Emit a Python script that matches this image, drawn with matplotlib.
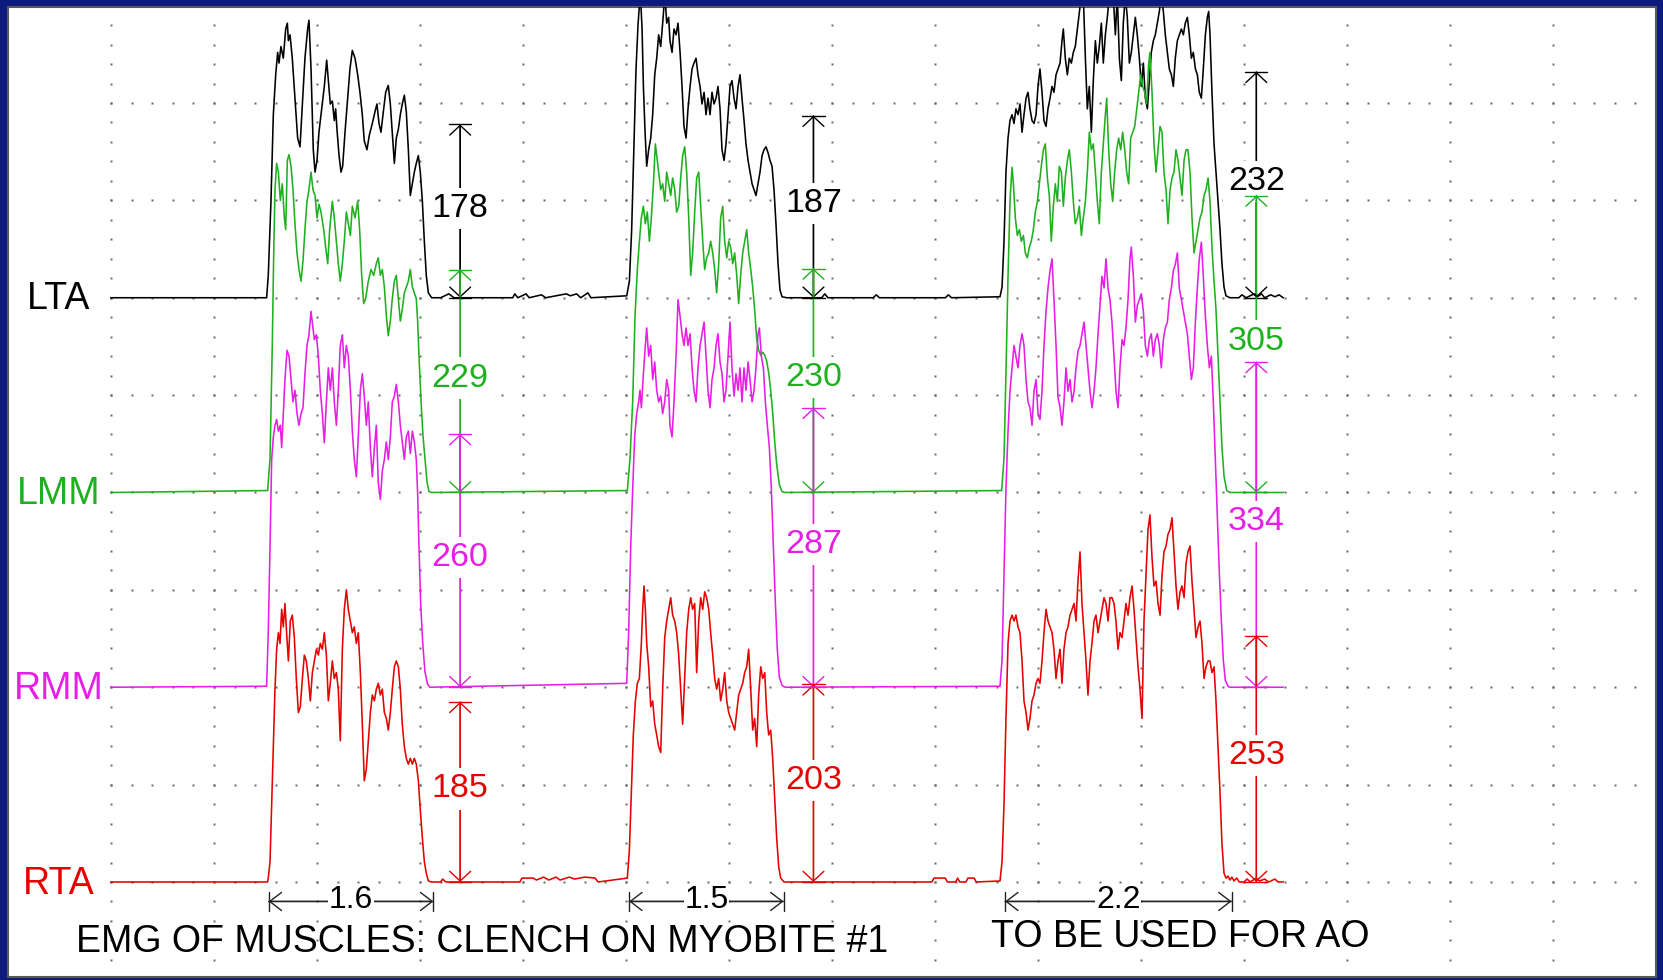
import numpy as np
import matplotlib.pyplot as plt

plt.rcParams['font.family'] = ['Liberation Sans', 'DejaVu Sans']

# channels, top to bottom; baseline offset in uV (100 uV per grid division)
channels = ['LTA', 'LMM', 'RMM', 'RTA']
colors = ['#000000', '#1fb01f', '#e61ee6', '#e60000']
baselines = [700, 500, 300, 100]
trace_end = 11.38

# bursts: (time s, amplitude uV above baseline)
lta_b1 = [(1.511,0),(1.527,23),(1.553,99),(1.576,188),(1.599,229),(1.618,252),(1.631,241),(1.650,258),(1.673,246),(1.696,276),(1.712,282),(1.722,264),(1.738,270),(1.760,246),(1.786,205),(1.812,164),(1.835,155),(1.858,199),(1.883,246),(1.909,276),(1.922,285),(1.942,235),(1.964,152),(1.981,129),(2.000,141),(2.019,170),(2.045,194),(2.071,217),(2.094,244),(2.110,223),(2.129,199),(2.149,202),(2.168,182),(2.181,194),(2.194,173),(2.214,146),(2.233,129),(2.249,135),(2.272,170),(2.298,205),(2.320,235),(2.343,254),(2.369,246),(2.395,229),(2.417,211),(2.440,188),(2.459,161),(2.485,152),(2.508,167),(2.537,179),(2.563,191),(2.582,199),(2.602,179),(2.621,170),(2.644,191),(2.667,211),(2.692,218),(2.712,199),(2.731,170),(2.751,138),(2.770,164),(2.790,173),(2.809,188),(2.828,199),(2.848,208),(2.867,191),(2.887,152),(2.906,105),(2.926,117),(2.945,129),(2.964,138),(2.984,146),(3.003,129),(3.023,99),(3.042,58),(3.061,23),(3.081,5),(3.113,0)]
lta_b2 = [(5.007,2),(5.033,17),(5.055,70),(5.078,158),(5.097,234),(5.117,281),(5.130,300),(5.143,305),(5.156,276),(5.169,217),(5.185,170),(5.201,135),(5.220,152),(5.240,164),(5.259,188),(5.279,229),(5.298,246),(5.317,270),(5.337,258),(5.356,282),(5.369,300),(5.382,305),(5.395,282),(5.414,288),(5.427,264),(5.447,252),(5.466,276),(5.486,270),(5.505,282),(5.525,252),(5.544,217),(5.563,176),(5.583,164),(5.602,194),(5.622,217),(5.641,235),(5.660,241),(5.680,246),(5.699,229),(5.719,217),(5.738,199),(5.758,211),(5.777,188),(5.796,205),(5.816,188),(5.835,211),(5.855,199),(5.874,205),(5.893,217),(5.913,194),(5.932,152),(5.952,141),(5.971,158),(5.991,188),(6.010,217),(6.029,223),(6.049,205),(6.068,194),(6.088,217),(6.107,229),(6.126,205),(6.146,182),(6.165,158),(6.185,141),(6.204,129),(6.224,117),(6.243,111),(6.262,105),(6.282,117),(6.301,129),(6.321,146),(6.340,152),(6.359,155),(6.379,149),(6.398,141),(6.418,135),(6.437,111),(6.456,76),(6.476,35),(6.495,8),(6.515,1),(6.560,0)]
lta_b3 = [(8.631,1),(8.651,11),(8.670,58),(8.689,129),(8.709,164),(8.728,182),(8.748,188),(8.767,179),(8.786,194),(8.806,188),(8.825,199),(8.845,170),(8.864,188),(8.884,205),(8.903,211),(8.922,194),(8.942,182),(8.961,179),(8.981,188),(9.000,217),(9.019,235),(9.039,211),(9.058,182),(9.078,176),(9.097,194),(9.117,205),(9.136,217),(9.155,211),(9.175,229),(9.194,235),(9.214,241),(9.233,264),(9.246,276),(9.265,246),(9.285,229),(9.304,246),(9.324,241),(9.343,252),(9.362,258),(9.382,276),(9.401,294),(9.421,310),(9.440,310),(9.460,246),(9.479,194),(9.498,217),(9.518,170),(9.537,223),(9.557,264),(9.576,241),(9.595,258),(9.615,282),(9.634,241),(9.654,270),(9.673,288),(9.693,310),(9.712,310),(9.731,310),(9.751,270),(9.770,310),(9.790,246),(9.809,223),(9.828,282),(9.848,310),(9.867,288),(9.887,241),(9.906,252),(9.926,270),(9.945,288),(9.964,270),(9.984,246),(10.003,217),(10.023,241),(10.042,205),(10.062,194),(10.081,223),(10.100,252),(10.120,264),(10.139,270),(10.159,282),(10.178,294),(10.197,310),(10.217,294),(10.236,270),(10.256,252),(10.275,235),(10.295,229),(10.314,217),(10.333,246),(10.353,264),(10.372,270),(10.392,276),(10.411,270),(10.430,282),(10.450,288),(10.469,270),(10.489,246),(10.508,252),(10.528,235),(10.547,229),(10.566,211),(10.586,205),(10.605,235),(10.625,270),(10.644,288),(10.657,294),(10.670,270),(10.689,211),(10.709,158),(10.728,129),(10.748,99),(10.767,70),(10.786,35),(10.806,11),(10.825,2),(10.864,0)]
lta_flat = [(3.20,0),(3.28,4),(3.33,0),(3.90,0),(3.92,4),(3.95,0),(4.03,4),(4.06,0),(4.18,3),(4.22,0),(4.42,4),(4.46,2),(4.52,4),(4.56,0),(4.63,5),(4.66,0),(6.90,0),(6.93,4),(6.96,0),(7.40,0),(7.43,3),(7.46,0),(8.10,0),(8.13,3),(8.16,0),(10.95,0),(10.98,3),(11.02,0),(11.10,4),(11.13,1),(11.17,4),(11.20,0),(11.26,3),(11.30,1),(11.34,3)]

lmm_b1 = [(1.521,2),(1.544,35),(1.566,152),(1.579,241),(1.592,311),(1.608,338),(1.625,329),(1.644,300),(1.663,317),(1.683,282),(1.696,270),(1.712,341),(1.728,347),(1.748,335),(1.767,311),(1.786,276),(1.806,246),(1.825,229),(1.845,217),(1.864,238),(1.883,270),(1.903,299),(1.922,311),(1.942,329),(1.961,311),(1.981,305),(2.000,282),(2.019,296),(2.039,288),(2.065,270),(2.084,252),(2.104,235),(2.123,270),(2.149,299),(2.168,282),(2.188,258),(2.207,235),(2.226,217),(2.246,235),(2.265,258),(2.285,288),(2.304,276),(2.324,264),(2.343,294),(2.369,282),(2.395,299),(2.414,270),(2.434,223),(2.453,194),(2.472,199),(2.498,217),(2.524,229),(2.550,223),(2.576,235),(2.595,241),(2.615,223),(2.634,229),(2.654,211),(2.673,182),(2.692,161),(2.712,176),(2.731,199),(2.751,217),(2.770,223),(2.790,199),(2.809,176),(2.828,188),(2.848,205),(2.867,211),(2.887,217),(2.906,229),(2.926,211),(2.945,205),(2.964,199),(2.977,176),(2.990,141),(3.010,94),(3.029,58),(3.048,35),(3.068,11),(3.087,1),(3.110,0)]
lmm_b2 = [(5.013,2),(5.039,35),(5.065,94),(5.088,182),(5.110,229),(5.130,258),(5.149,282),(5.169,294),(5.188,276),(5.207,288),(5.227,258),(5.246,282),(5.266,317),(5.285,358),(5.298,346),(5.317,329),(5.337,311),(5.356,317),(5.376,299),(5.395,329),(5.414,317),(5.434,305),(5.453,323),(5.473,311),(5.492,288),(5.512,294),(5.531,323),(5.550,346),(5.570,355),(5.589,329),(5.609,282),(5.628,223),(5.647,246),(5.667,288),(5.686,323),(5.706,329),(5.725,294),(5.745,258),(5.764,229),(5.783,241),(5.803,246),(5.822,258),(5.842,246),(5.861,229),(5.880,205),(5.900,235),(5.919,282),(5.939,294),(5.958,258),(5.978,241),(5.997,258),(6.016,252),(6.036,235),(6.055,246),(6.075,223),(6.094,194),(6.113,223),(6.133,246),(6.152,258),(6.172,270),(6.191,246),(6.211,229),(6.230,211),(6.249,188),(6.269,158),(6.288,146),(6.308,141),(6.327,144),(6.347,141),(6.366,135),(6.385,123),(6.405,105),(6.424,82),(6.444,52),(6.463,29),(6.489,8),(6.515,1),(6.540,0)]
lmm_b3 = [(8.647,2),(8.670,35),(8.689,123),(8.709,222),(8.728,299),(8.748,334),(8.761,317),(8.780,282),(8.799,264),(8.819,270),(8.838,258),(8.858,264),(8.877,246),(8.896,241),(8.916,252),(8.935,258),(8.955,270),(8.974,288),(8.994,299),(9.013,317),(9.032,335),(9.052,352),(9.071,358),(9.091,323),(9.110,305),(9.129,258),(9.149,294),(9.168,317),(9.188,299),(9.207,335),(9.227,329),(9.246,294),(9.265,323),(9.285,341),(9.304,352),(9.324,329),(9.343,299),(9.362,276),(9.382,282),(9.401,294),(9.421,264),(9.440,282),(9.460,299),(9.479,329),(9.498,370),(9.518,352),(9.537,358),(9.557,329),(9.576,299),(9.595,276),(9.615,329),(9.634,358),(9.654,388),(9.667,405),(9.686,352),(9.706,317),(9.725,299),(9.744,329),(9.764,352),(9.783,364),(9.803,352),(9.822,370),(9.842,352),(9.861,329),(9.880,317),(9.900,364),(9.919,370),(9.939,376),(9.958,393),(9.977,411),(9.997,429),(10.016,417),(10.036,411),(10.055,399),(10.074,440),(10.087,452),(10.107,411),(10.126,358),(10.146,329),(10.165,352),(10.185,376),(10.204,370),(10.223,329),(10.243,311),(10.262,276),(10.282,311),(10.301,323),(10.320,329),(10.340,352),(10.359,341),(10.379,323),(10.398,305),(10.418,341),(10.437,352),(10.456,352),(10.476,329),(10.495,282),(10.515,246),(10.534,258),(10.554,270),(10.573,282),(10.592,288),(10.612,305),(10.631,311),(10.651,323),(10.670,299),(10.689,252),(10.709,217),(10.728,188),(10.748,141),(10.767,94),(10.786,47),(10.806,17),(10.832,2),(10.864,0)]
lmm_flat = []

rmm_b1 = [(1.511,1),(1.527,57),(1.544,145),(1.560,234),(1.576,257),(1.592,269),(1.608,275),(1.625,263),(1.644,269),(1.657,246),(1.673,281),(1.689,316),(1.709,346),(1.728,340),(1.748,316),(1.767,293),(1.786,305),(1.806,281),(1.825,269),(1.845,281),(1.864,287),(1.883,322),(1.903,351),(1.922,362),(1.942,386),(1.955,374),(1.974,357),(1.994,362),(2.013,340),(2.032,305),(2.052,281),(2.071,251),(2.091,293),(2.110,328),(2.129,305),(2.149,328),(2.168,293),(2.188,269),(2.207,305),(2.226,351),(2.246,362),(2.265,328),(2.285,351),(2.304,340),(2.324,305),(2.343,263),(2.362,234),(2.382,216),(2.401,258),(2.421,305),(2.440,322),(2.459,299),(2.479,269),(2.498,293),(2.518,246),(2.537,216),(2.557,246),(2.576,269),(2.595,210),(2.615,193),(2.634,222),(2.654,234),(2.673,252),(2.692,234),(2.712,257),(2.731,293),(2.751,299),(2.770,311),(2.790,293),(2.809,269),(2.828,252),(2.848,234),(2.867,257),(2.887,263),(2.906,240),(2.926,263),(2.945,252),(2.964,234),(2.977,199),(2.990,146),(3.006,87),(3.026,46),(3.048,16),(3.074,3),(3.097,0)]
rmm_b2 = [(5.007,4),(5.026,57),(5.046,145),(5.065,204),(5.084,257),(5.104,281),(5.123,293),(5.136,305),(5.149,287),(5.169,322),(5.188,351),(5.201,369),(5.220,340),(5.240,351),(5.259,316),(5.279,334),(5.298,305),(5.317,293),(5.337,299),(5.356,281),(5.376,293),(5.395,316),(5.414,305),(5.427,269),(5.447,257),(5.466,293),(5.486,340),(5.505,398),(5.525,381),(5.544,363),(5.563,351),(5.583,369),(5.602,351),(5.622,363),(5.641,328),(5.660,305),(5.680,293),(5.699,328),(5.719,351),(5.738,363),(5.758,375),(5.777,340),(5.796,305),(5.816,287),(5.835,316),(5.855,328),(5.874,351),(5.893,363),(5.913,334),(5.932,322),(5.952,293),(5.971,305),(5.991,340),(6.010,375),(6.029,328),(6.049,299),(6.068,322),(6.088,305),(6.107,328),(6.126,293),(6.146,328),(6.165,305),(6.185,334),(6.204,316),(6.224,293),(6.243,305),(6.262,328),(6.282,363),(6.295,369),(6.314,340),(6.334,328),(6.353,293),(6.372,269),(6.392,246),(6.411,204),(6.431,145),(6.450,87),(6.469,39),(6.489,10),(6.515,2),(6.544,0)]
rmm_b3 = [(8.631,1),(8.651,28),(8.670,116),(8.689,204),(8.709,263),(8.728,304),(8.748,328),(8.767,351),(8.786,340),(8.806,328),(8.825,351),(8.845,363),(8.864,351),(8.884,316),(8.903,293),(8.922,287),(8.942,269),(8.961,304),(8.981,316),(9.000,281),(9.019,275),(9.039,304),(9.058,351),(9.078,386),(9.097,410),(9.117,428),(9.136,440),(9.155,398),(9.175,351),(9.194,298),(9.214,287),(9.233,269),(9.252,293),(9.272,328),(9.291,304),(9.311,316),(9.330,293),(9.350,304),(9.369,328),(9.388,345),(9.408,351),(9.427,363),(9.447,375),(9.466,351),(9.485,328),(9.505,304),(9.524,287),(9.544,304),(9.563,328),(9.583,363),(9.602,392),(9.621,422),(9.641,410),(9.660,440),(9.680,410),(9.699,398),(9.718,375),(9.738,340),(9.757,304),(9.777,287),(9.796,328),(9.816,357),(9.835,351),(9.854,369),(9.874,398),(9.893,440),(9.906,452),(9.926,422),(9.945,375),(9.964,392),(9.984,398),(10.003,404),(10.023,386),(10.042,351),(10.062,340),(10.081,357),(10.100,363),(10.120,340),(10.139,357),(10.159,363),(10.178,351),(10.197,328),(10.217,357),(10.236,369),(10.256,375),(10.275,398),(10.295,410),(10.314,428),(10.333,434),(10.353,446),(10.372,410),(10.392,398),(10.411,386),(10.430,375),(10.450,363),(10.469,340),(10.489,316),(10.508,328),(10.528,375),(10.547,410),(10.566,440),(10.586,457),(10.605,422),(10.625,381),(10.644,351),(10.664,328),(10.683,340),(10.702,293),(10.722,234),(10.741,175),(10.761,116),(10.780,69),(10.799,28),(10.819,7),(10.845,1),(10.864,0)]
rmm_flat = []

rta_b1 = [(1.520,0),(1.527,4),(1.544,21),(1.560,80),(1.576,139),(1.592,198),(1.608,239),(1.625,256),(1.641,245),(1.657,280),(1.673,262),(1.689,286),(1.705,256),(1.722,227),(1.741,268),(1.760,274),(1.780,251),(1.799,209),(1.819,174),(1.838,180),(1.858,209),(1.877,233),(1.896,227),(1.916,209),(1.935,186),(1.955,215),(1.974,227),(1.994,239),(2.013,233),(2.032,245),(2.052,239),(2.071,256),(2.091,233),(2.110,186),(2.129,204),(2.149,227),(2.168,209),(2.188,215),(2.207,198),(2.226,145),(2.246,239),(2.265,280),(2.285,300),(2.304,280),(2.324,268),(2.343,256),(2.362,262),(2.382,245),(2.401,256),(2.421,215),(2.440,162),(2.459,104),(2.479,116),(2.498,145),(2.518,174),(2.537,192),(2.557,186),(2.576,198),(2.595,204),(2.615,192),(2.634,198),(2.654,174),(2.673,168),(2.692,156),(2.712,174),(2.731,198),(2.751,221),(2.770,227),(2.790,221),(2.809,198),(2.828,162),(2.848,139),(2.867,127),(2.887,121),(2.906,127),(2.926,121),(2.945,127),(2.964,121),(2.984,104),(3.003,74),(3.023,45),(3.042,21),(3.061,9),(3.081,1),(3.113,0)]
rta_b2 = [(5.013,4),(5.033,33),(5.052,92),(5.071,151),(5.091,186),(5.110,204),(5.130,209),(5.149,245),(5.162,280),(5.175,304),(5.188,280),(5.201,245),(5.220,221),(5.240,180),(5.259,186),(5.279,162),(5.298,151),(5.317,139),(5.337,133),(5.356,198),(5.376,251),(5.395,268),(5.414,280),(5.434,292),(5.453,274),(5.473,268),(5.492,256),(5.512,233),(5.531,198),(5.550,162),(5.570,209),(5.589,256),(5.609,280),(5.628,292),(5.647,280),(5.667,286),(5.686,215),(5.706,268),(5.725,292),(5.745,280),(5.764,298),(5.783,292),(5.803,280),(5.822,256),(5.842,233),(5.861,209),(5.880,198),(5.900,209),(5.919,186),(5.939,198),(5.958,215),(5.978,186),(5.997,174),(6.016,168),(6.036,162),(6.055,156),(6.075,174),(6.094,192),(6.113,198),(6.133,204),(6.152,215),(6.172,221),(6.191,239),(6.211,198),(6.230,156),(6.249,168),(6.269,139),(6.288,192),(6.308,221),(6.327,209),(6.347,215),(6.366,174),(6.385,151),(6.405,156),(6.424,127),(6.444,86),(6.463,45),(6.483,15),(6.502,4),(6.534,0)]
rta_b3 = [(8.631,1),(8.651,21),(8.670,80),(8.689,168),(8.709,245),(8.728,268),(8.748,274),(8.767,268),(8.786,274),(8.806,262),(8.825,256),(8.845,227),(8.864,186),(8.884,174),(8.903,156),(8.922,168),(8.942,186),(8.961,192),(8.981,204),(9.000,209),(9.019,204),(9.039,227),(9.058,256),(9.078,280),(9.097,268),(9.117,262),(9.136,256),(9.155,239),(9.175,209),(9.194,227),(9.214,239),(9.233,204),(9.252,239),(9.272,256),(9.291,262),(9.311,274),(9.330,280),(9.350,286),(9.369,268),(9.388,309),(9.408,339),(9.427,286),(9.447,256),(9.466,227),(9.485,192),(9.505,227),(9.524,245),(9.544,268),(9.563,274),(9.583,256),(9.602,268),(9.621,280),(9.641,292),(9.660,286),(9.680,268),(9.699,292),(9.718,292),(9.738,286),(9.757,268),(9.777,239),(9.796,256),(9.816,251),(9.835,268),(9.854,286),(9.874,274),(9.893,292),(9.913,304),(9.932,280),(9.951,251),(9.971,221),(9.990,198),(10.010,168),(10.029,268),(10.049,315),(10.068,362),(10.087,377),(10.107,333),(10.126,304),(10.146,309),(10.165,286),(10.185,274),(10.204,315),(10.223,339),(10.243,345),(10.262,357),(10.282,362),(10.301,374),(10.320,339),(10.340,304),(10.359,280),(10.379,298),(10.398,304),(10.418,292),(10.437,327),(10.456,339),(10.476,345),(10.495,309),(10.515,280),(10.534,251),(10.554,262),(10.573,268),(10.592,245),(10.612,209),(10.631,221),(10.651,227),(10.670,227),(10.689,215),(10.709,221),(10.728,186),(10.748,139),(10.767,92),(10.786,39),(10.806,9),(10.825,4),(10.845,6),(10.864,2),(10.883,5),(10.903,1),(10.929,4),(10.955,0)]
rta_flat = [(3.20,0),(3.22,3),(3.25,0),(3.97,0),(3.99,4),(4.10,4),(4.13,2),(4.20,5),(4.25,2),(4.32,5),(4.36,2),(4.45,5),(4.50,3),(4.60,5),(4.70,4),(4.73,0),(7.97,0),(7.99,4),(8.10,4),(8.12,0),(8.20,0),(8.22,4),(8.24,0),(8.30,0),(8.32,4),(8.38,4),(8.40,0),(11.00,0),(11.03,3),(11.06,0),(11.12,4),(11.15,1),(11.20,3),(11.24,0),(11.30,3),(11.33,0)]

bursts = [[lta_b1, lta_b2, lta_b3], [lmm_b1, lmm_b2, lmm_b3],
          [rmm_b1, rmm_b2, rmm_b3], [rta_b1, rta_b2, rta_b3]]
flats = [lta_flat, lmm_flat, rmm_flat, rta_flat]

# peak amplitude measurements (uV) at each burst
meas_t = [3.39, 6.82, 11.12]
lta_meas = [178, 187, 232]
lmm_meas = [229, 230, 305]
rmm_meas = [260, 287, 334]
rta_meas = [185, 203, 253]
meas = [lta_meas, lmm_meas, rmm_meas, rta_meas]

# clench durations (s)
dur_start = [1.53, 5.03, 8.68]
dur_len = [1.6, 1.5, 2.2]
dur_y = 80

fig = plt.figure(figsize=(16.63, 9.80), dpi=100, facecolor='#0b1a7c')
ax = fig.add_axes([8 / 1663, 2.6 / 980, 1648 / 1663, 970.8 / 980])
ax.set_facecolor('white')
ax.set_xlim(-1, 15)
ax.set_ylim(2, 999)
ax.set_xticks([])
ax.set_yticks([])
for s in ax.spines.values():
    s.set_color('#5a5a5a')
    s.set_linewidth(1.5)

# dotted grid: 1 s by 100 uV, dots every 0.2 s / 20 uV along the lines
dot_v = np.arange(20, 1000, 20)
dot_t = np.arange(75) * 0.2
for t in range(15):
    ax.plot(np.full(len(dot_v), t), dot_v, 's', ms=1.6, color='#6a6a6a', mec='none', zorder=1)
for v in range(100, 1000, 100):
    ax.plot(dot_t, np.full(len(dot_t), v), 's', ms=1.6, color='#6a6a6a', mec='none', zorder=1)

for i, name in enumerate(channels):
    c = colors[i]
    base = baselines[i]
    pts = [(0.0, 0)] + flats[i] + [(trace_end, 0)]
    for b in bursts[i]:
        pts = pts + b
    pts = sorted(pts)
    t = np.array([p[0] for p in pts])
    a = np.array([p[1] for p in pts])
    ax.plot(t, base + a, color=c, lw=1.15, zorder=10)

    ax.text(-0.505, base - 12, name, color=c, fontsize=27, ha='center', va='baseline')

    for k, m in enumerate(meas[i]):
        x = meas_t[k]
        z = 3 + i
        ax.annotate('', xy=(x, base + m), xytext=(x, base),
                    arrowprops=dict(arrowstyle='<->,head_length=7,head_width=7.5',
                                    color=c, lw=1, shrinkA=0, shrinkB=0,
                                    mutation_scale=1), zorder=z)
        ax.annotate('', xy=(x, base + m), xytext=(x, base),
                    arrowprops=dict(arrowstyle='|-|,widthA=8,widthB=8',
                                    color=c, lw=1, shrinkA=0, shrinkB=0,
                                    mutation_scale=1), zorder=z)
        ax.text(x, base + m / 2 + 3, str(m), color=c, fontsize=24.5,
                ha='center', va='center', zorder=z + 0.5,
                bbox=dict(boxstyle='square,pad=0.15', fc='white', ec='none'))

for s0, d in zip(dur_start, dur_len):
    ax.annotate('', xy=(s0 + d, dur_y), xytext=(s0, dur_y),
                arrowprops=dict(arrowstyle='<->,head_length=8.5,head_width=6.5',
                                color='#222222', lw=1, shrinkA=0, shrinkB=0,
                                mutation_scale=1), zorder=3)
    ax.annotate('', xy=(s0 + d, dur_y), xytext=(s0, dur_y),
                arrowprops=dict(arrowstyle='|-|,widthA=7,widthB=7',
                                color='#222222', lw=1, shrinkA=0, shrinkB=0,
                                mutation_scale=1), zorder=3)
    ax.text(s0 + d / 2, dur_y + 2, f'{d:.1f}', fontsize=23, ha='center', va='center',
            zorder=4, bbox=dict(boxstyle='square,pad=0.02', fc='white', ec='none'))

ax.text(3.60, 28, 'EMG OF MUSCLES: CLENCH ON MYOBITE #1', fontsize=27,
        ha='center', va='baseline', zorder=4)
ax.text(10.38, 33, 'TO BE USED FOR AO', fontsize=27,
        ha='center', va='baseline', zorder=4)

fig.savefig('out.png', dpi=100, facecolor=fig.get_facecolor())
